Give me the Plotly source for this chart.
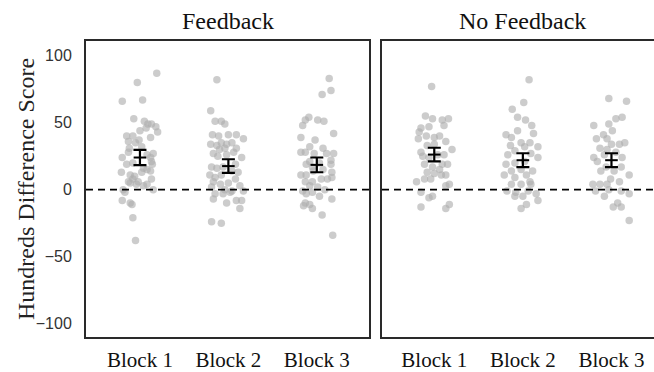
import numpy as np
import plotly.graph_objects as go

# ---- data -------------------------------------------------------------
blocks = [1, 2, 3]
block_labels = ["Block 1", "Block 2", "Block 3"]
panel_titles = ["Feedback", "No Feedback"]

# individual scores (Feedback condition)
fb1_vals = [87, 80, 66, 67, 53, 51, 49, 49, 47, 46, 44, 43, 39, 40, 40, 37, 36, 35, 32, 31,
            24, 27, 24, 19, 20, 19, 13, 11, 10, 13, 15, 14, 8, 6, 6, 8, 4, 3, 0, 0,
            -2, -8, -10, -11, -21, -38, 28, 26, 21, 16, 4, 5]
fb1_dx = [0.19, -0.03, -0.20, 0.03, -0.07, 0.05, 0.09, 0.13, 0.18, 0.07, 0.00, 0.20, 0.12, -0.15, -0.08,
          -0.01, -0.13, -0.05, 0.02, -0.12, -0.20, 0.15, 0.12, -0.15, -0.08, 0.14, -0.21, -0.11, -0.06, 0.02,
          0.08, 0.12, -0.08, -0.13, -0.02, 0.13, 0.08, 0.04, -0.19, 0.15, -0.17, -0.20, -0.11, -0.09, -0.08,
          -0.05, -0.13, 0.08, 0.13, 0.04, -0.04, -0.11]

fb2_vals = [82, 59, 51, 51, 49, 41, 40, 41, 41, 38, 34, 33, 35, 34, 35, 30, 31, 31, 27, 26,
            25, 28, 24, 17, 16, 17, 19, 11, 9, 11, 14, 13, 6, 4, 5, 8, 3, 2, 0, -1,
            -1, -3, -3, -2, -7, -8, -8, -10, -14, -24, -25]
fb2_dx = [-0.13, -0.20, -0.15, -0.08, -0.04, -0.18, -0.11, 0.00, 0.09, 0.17, -0.20, -0.13, -0.08, -0.02, 0.04,
          -0.10, -0.04, 0.09, -0.17, -0.02, -0.12, 0.06, 0.15, -0.19, -0.13, -0.06, 0.08, -0.21, -0.15, -0.08,
          0.04, 0.11, -0.17, -0.09, 0.00, 0.08, 0.13, -0.19, -0.04, 0.04, 0.17, -0.15, -0.06, 0.02, -0.17,
          0.09, 0.15, -0.02, 0.13, -0.19, -0.08]

fb3_vals = [83, 74, 71, 54, 52, 48, 52, 51, 39, 37, 42, 32, 31, 28, 28, 27, 27, 27, 22, 21,
            20, 19, 17, 19, 11, 11, 14, 15, 13, 9, 6, 6, 8, 8, 3, 2, -1, 0, -2, -3,
            -5, -10, -11, -12, -14, -7, -19, -34]
fb3_dx = [0.14, 0.16, 0.06, -0.09, -0.13, -0.16, 0.01, 0.08, -0.18, -0.02, 0.19, -0.08, 0.07, -0.18, -0.13,
          -0.03, 0.11, 0.19, 0.16, -0.08, 0.03, -0.12, -0.05, 0.16, -0.18, -0.12, -0.04, 0.07, 0.17, 0.17,
          -0.13, -0.05, 0.05, 0.12, -0.08, 0.01, -0.16, 0.09, -0.05, -0.12, 0.03, -0.13, -0.08, -0.15, -0.05,
          0.17, 0.06, 0.18]

# individual scores (No Feedback condition)
nf1_vals = [77, 55, 53, 52, 53, 46, 47, 48, 43, 38, 40, 39, 40, 36, 28, 33, 34, 30, 25, 24,
            26, 26, 19, 19, 17, 19, 13, 12, 11, 11, 6, 8, 8, 4, -2, -6, -5, 3, -13, -14,
            -11, 15]
nf1_dx = [-0.03, -0.10, -0.02, 0.09, 0.16, -0.15, -0.06, 0.11, -0.17, -0.18, -0.09, 0.00, 0.06, 0.13, -0.15,
          -0.08, 0.00, 0.20, -0.13, -0.06, 0.04, 0.11, 0.15, -0.11, -0.02, 0.09, -0.08, 0.00, 0.08, 0.13,
          -0.20, -0.11, -0.04, 0.17, -0.15, -0.06, -0.02, 0.13, -0.15, 0.13, 0.17, 0.06]

nf2_vals = [82, 65, 60, 54, 52, 48, 44, 42, 41, 39, 35, 35, 33, 32, 32, 29, 26, 27, 24, 19,
            20, 21, 14, 15, 14, 11, 11, 9, 6, 4, 4, 4, -1, -2, -1, -3, -5, -5, -8, -11, -14]
nf2_dx = [0.07, 0.01, -0.12, -0.06, 0.03, 0.10, -0.06, 0.12, -0.19, -0.13, 0.08, -0.02, -0.14, 0.02, 0.17,
          -0.09, -0.17, 0.09, 0.17, -0.19, -0.09, 0.02, -0.13, -0.02, 0.11, -0.21, 0.04, -0.09, 0.08, -0.13,
          -0.02, 0.09, -0.18, -0.08, 0.06, 0.15, -0.09, 0.00, 0.17, 0.04, -0.02]

nf3_vals = [68, 66, 54, 53, 49, 48, 44, 41, 38, 38, 34, 34, 35, 31, 30, 28, 24, 26, 24, 21,
            17, 17, 11, 14, 14, 4, 4, 4, 6, -1, 0, -1, -3, -5, -10, -13, -13, -23, 8]
nf3_dx = [-0.03, 0.17, 0.12, 0.05, -0.03, -0.20, 0.01, -0.09, -0.17, -0.05, 0.00, 0.09, 0.15, -0.13, -0.05,
          0.05, -0.20, -0.08, 0.12, -0.16, -0.06, 0.11, 0.20, -0.12, 0.03, -0.21, -0.13, -0.05, 0.09, -0.18,
          -0.03, 0.11, 0.20, -0.08, 0.07, 0.11, 0.02, 0.20, -0.01]

# group means and standard errors
fb_means = [24.0, 17.6, 18.5]
fb_se = [5.7, 5.1, 5.5]
nf_means = [26.2, 22.0, 22.0]
nf_se = [5.1, 5.2, 5.2]

y_ticks = [-100, -50, 0, 50, 100]

# ---- figure -----------------------------------------------------------
W, H = 654, 372
SERIF = "Liberation Serif, Times New Roman, serif"
SANS = "Liberation Sans, Arial, sans-serif"
FRAME = "#2a2a2a"

fig = go.Figure()

panels = [
    ("x", "y", [(fb1_vals, fb1_dx), (fb2_vals, fb2_dx), (fb3_vals, fb3_dx)], fb_means, fb_se),
    ("x2", "y2", [(nf1_vals, nf1_dx), (nf2_vals, nf2_dx), (nf3_vals, nf3_dx)], nf_means, nf_se),
]

for xa, ya, groups, means, se in panels:
    for b, (vals, dx) in zip(blocks, groups):
        fig.add_trace(go.Scatter(
            x=b + np.array(dx), y=vals, mode="markers", xaxis=xa, yaxis=ya,
            marker=dict(size=7.5, color="rgb(172,172,172)", opacity=0.62, line=dict(width=0)),
            hoverinfo="y", showlegend=False,
        ))
    fig.add_trace(go.Scatter(
        x=blocks, y=means, mode="markers", xaxis=xa, yaxis=ya,
        marker=dict(symbol="line-ew", size=9, color="black", line=dict(color="black", width=2)),
        error_y=dict(type="data", array=se, visible=True, color="black", thickness=2.2, width=6.5),
        showlegend=False,
    ))

# zero reference lines
for xa, ya in [("x", "y"), ("x2", "y2")]:
    fig.add_shape(type="line", xref=f"{xa} domain", yref=ya, x0=0, x1=1, y0=0, y1=0,
                  line=dict(color="black", width=1.6, dash="7px,5px"), layer="above")

left_dom = [86 / W, 369 / W]
right_dom = [382 / W, 1.0]
yrange = [-110, 111]

axis_common = dict(showgrid=False, zeroline=False, showline=True, linecolor=FRAME, linewidth=2)
block_font = dict(family=SERIF, size=21, color="#111")

fig.update_layout(
    width=W, height=H,
    margin=dict(l=0, r=0, t=41, b=30),
    paper_bgcolor="white", plot_bgcolor="white",
    xaxis=dict(domain=left_dom, range=[0.39, 3.59], mirror=True, tickvals=blocks,
               ticktext=block_labels, ticks="", ticklabelstandoff=3,
               tickfont=block_font, **axis_common),
    xaxis2=dict(domain=right_dom, range=[0.41, 3.48], mirror=True, tickvals=blocks,
                ticktext=block_labels, ticks="", ticklabelstandoff=3, anchor="y2",
                tickfont=block_font, **axis_common),
    yaxis=dict(range=yrange, mirror=True, tickvals=y_ticks, ticks="", ticklabelstandoff=9,
               tickfont=dict(family=SANS, size=16, color="#333"), **axis_common),
    yaxis2=dict(range=yrange, anchor="x2", mirror=False, showticklabels=False, ticks="",
                **axis_common),
)

# panel titles
for xa, title in zip(["x", "x2"], panel_titles):
    fig.add_annotation(text=title, xref=xa, x=2, yref="paper", y=1, yanchor="bottom",
                       yshift=5, showarrow=False,
                       font=dict(family=SERIF, size=24, color="#111"))

# y axis title
fig.add_annotation(text="Hundreds Difference Score", xref="paper", x=26 / W, yref="paper", y=0.5,
                   textangle=-90, showarrow=False, xanchor="center", yanchor="middle",
                   font=dict(family=SERIF, size=24, color="#222"))

fig.write_html("out.html")
